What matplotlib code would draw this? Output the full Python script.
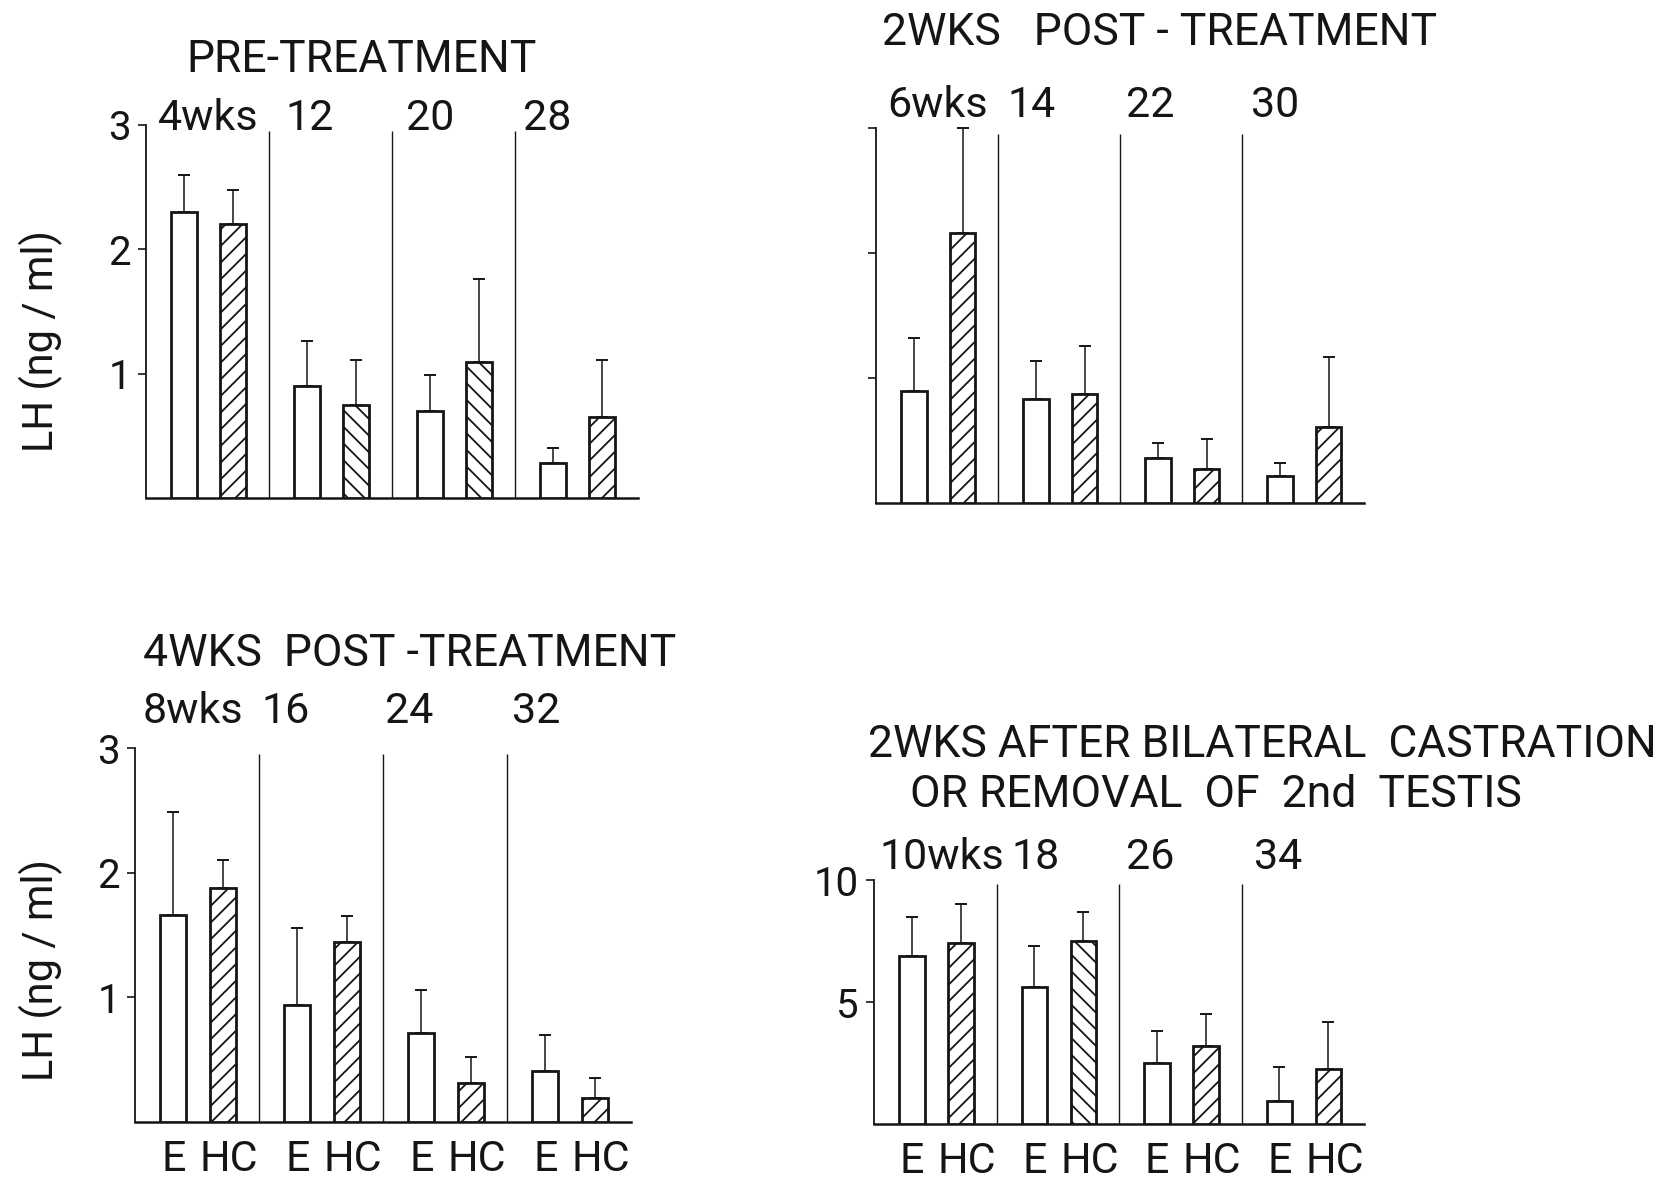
import matplotlib
matplotlib.use("Agg")
import matplotlib.pyplot as plt
from matplotlib.transforms import offset_copy

plt.rcParams['font.family'] = ['Roboto', 'DejaVu Sans']
plt.rcParams['hatch.linewidth'] = 1.3

INK = '#151515'
W, H = 1672, 1182

# LH (ng/ml): mean and SEM per age group, E = open bars, HC = hatched bars
pre_weeks = ['4wks', '12', '20', '28']
pre_e = [2.30, 0.90, 0.70, 0.28]
pre_e_sem = [0.30, 0.36, 0.29, 0.12]
pre_hc = [2.20, 0.75, 1.09, 0.65]
pre_hc_sem = [0.28, 0.36, 0.67, 0.46]
pre_hatch = ['//', '\\\\', '\\\\', '//']

post2_weeks = ['6wks', '14', '22', '30']
post2_e = [0.90, 0.83, 0.36, 0.22]
post2_e_sem = [0.42, 0.31, 0.12, 0.10]
post2_hc = [2.16, 0.87, 0.27, 0.61]
post2_hc_sem = [0.84, 0.39, 0.24, 0.56]
post2_hatch = ['//', '//', '//', '//']

post4_weeks = ['8wks', '16', '24', '32']
post4_e = [1.66, 0.94, 0.71, 0.41]
post4_e_sem = [0.83, 0.62, 0.35, 0.29]
post4_hc = [1.88, 1.44, 0.31, 0.19]
post4_hc_sem = [0.22, 0.21, 0.21, 0.16]
post4_hatch = ['//', '//', '//', '//']

cast_weeks = ['10wks', '18', '26', '34']
cast_e = [6.9, 5.6, 2.5, 0.95]
cast_e_sem = [1.6, 1.7, 1.3, 1.4]
cast_hc = [7.4, 7.5, 3.2, 2.25]
cast_hc_sem = [1.6, 1.2, 1.3, 1.95]
cast_hatch = ['//', '\\\\', '//', '//']

group_labels = ['E', 'HC']

fig = plt.figure(figsize=(W / 100, H / 100), dpi=100)
fig.patch.set_facecolor('white')


def panel(box, ymax, yticks, yticklabels, weeks, e, e_sem, hc, hc_sem, hatches,
          week_dx, week_dy, show_groups):
    # box = (left, top, right, bottom) in pixels; ymax sits at "top"
    left, top, right, bottom = box
    head = 1.03
    hgt = (bottom - top) * head
    ax = fig.add_axes([left / W, 1 - bottom / H, (right - left) / W, hgt / H])
    ax.set_xlim(0, 4)
    ax.set_ylim(0, ymax * head)
    ax.patch.set_alpha(0)
    for s in ('top', 'right'):
        ax.spines[s].set_visible(False)
    ax.spines['left'].set_bounds(0, ymax)
    ax.spines['left'].set_linewidth(1.3)
    ax.spines['bottom'].set_linewidth(1.8)
    ax.spines['left'].set_color(INK)
    ax.spines['bottom'].set_color(INK)

    xe = [i + 0.31 for i in range(4)]
    xh = [i + 0.71 for i in range(4)]
    ax.bar(xe, e, width=0.21, facecolor='white', edgecolor=INK, linewidth=2.0, zorder=3)
    bars = ax.bar(xh, hc, width=0.21, facecolor='white', edgecolor=INK, linewidth=2.0, zorder=3)
    for b, h in zip(bars, hatches):
        b.set_hatch(h)
    ax.errorbar(xe, e, yerr=[[0] * 4, e_sem], fmt='none', ecolor=INK,
                elinewidth=1.1, capsize=4, capthick=1.4, zorder=2)
    ax.errorbar(xh, hc, yerr=[[0] * 4, hc_sem], fmt='none', ecolor=INK,
                elinewidth=1.1, capsize=4, capthick=1.4, zorder=2)

    # thin separators between age groups
    ax.vlines([1, 2, 3], 0, ymax * 0.985, color=INK, linewidth=1.0)

    ax.set_yticks(yticks)
    ax.set_yticklabels(yticklabels, fontsize=29, color=INK)
    ax.tick_params(axis='y', direction='out', length=6, width=1.2, pad=5, colors=INK)

    if show_groups:
        ax.set_xticks(xe + [x + 0.05 for x in xh])
        ax.set_xticklabels([group_labels[0]] * 4 + [group_labels[1]] * 4,
                           fontsize=31, color=INK)
        ax.tick_params(axis='x', length=0, pad=12)
    else:
        ax.set_xticks([])

    for i, wk in enumerate(weeks):
        tr = offset_copy(ax.get_xaxis_transform(), fig=fig, x=week_dx[i], y=week_dy,
                         units='dots')
        ax.text(i, 1 / head, wk, transform=tr, fontsize=31, color=INK,
                ha='left', va='baseline')
    return ax


panel((146, 125, 638, 498), 3, [1, 2, 3], ['1', '2', '3'],
      pre_weeks, pre_e, pre_e_sem, pre_hc, pre_hc_sem, pre_hatch,
      [12, 16, 14, 8], -5, False)
panel((876, 128, 1364, 503), 3, [1, 2, 3], ['', '', ''],
      post2_weeks, post2_e, post2_e_sem, post2_hc, post2_hc_sem, post2_hatch,
      [11, 9, 6, 9], 11, False)
panel((135, 748, 631, 1122), 3, [1, 2, 3], ['1', '2', '3'],
      post4_weeks, post4_e, post4_e_sem, post4_hc, post4_hc_sem, post4_hatch,
      [8, 2, 2, 5], 25, True)
panel((874, 880, 1364, 1124), 10, [5, 10], ['5', '10'],
      cast_weeks, cast_e, cast_e_sem, cast_hc, cast_hc_sem, cast_hatch,
      [5, 15, 7, 12], 11, True)

# panel headings
head_kw = dict(fontsize=32, color=INK, ha='center', va='baseline')
fig.text(362 / W, 1 - 72 / H, 'PRE-TREATMENT', **head_kw)
fig.text(1160 / W, 1 - 45 / H, '2WKS   POST - TREATMENT', **head_kw)
fig.text(410 / W, 1 - 666 / H, '4WKS  POST -TREATMENT', **head_kw)
fig.text(1262 / W, 1 - 757 / H, '2WKS AFTER BILATERAL  CASTRATION', **head_kw)
fig.text(1216 / W, 1 - 807 / H, 'OR REMOVAL  OF  2nd  TESTIS', **head_kw)

# y-axis titles
for yc in (341, 970):
    fig.text(41 / W, 1 - yc / H, 'LH (ng / ml)', fontsize=30, color=INK, rotation=90,
             ha='center', va='center')

fig.savefig('out.png', dpi=100, facecolor='white')
